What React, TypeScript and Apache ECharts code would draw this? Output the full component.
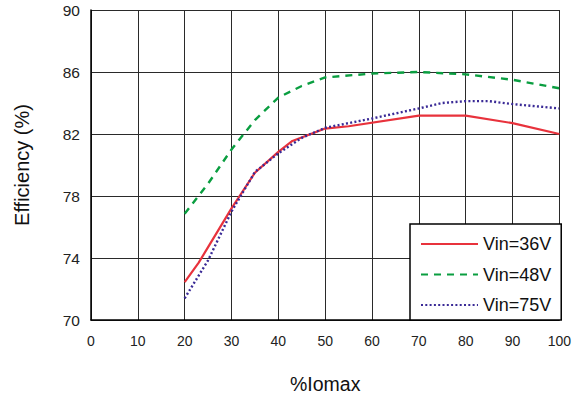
import React, { useEffect, useRef } from "react";
import * as echarts from "echarts";

const xTicks = [0, 10, 20, 30, 40, 50, 60, 70, 80, 90, 100];
const yTicks = [70, 74, 78, 82, 86, 90];

const vin36X = [20, 23, 25, 30, 35, 40, 43, 50, 55, 70, 80, 90, 100];
const vin36Y = [72.45, 73.7, 74.7, 77.2, 79.5, 80.85, 81.55, 82.35, 82.5, 83.18, 83.18, 82.7, 82.0];

const vin48X = [20, 25, 30, 35, 40, 45, 50, 60, 70, 80, 90, 100];
const vin48Y = [76.85, 78.8, 81.0, 82.9, 84.35, 85.1, 85.65, 85.9, 86.0, 85.85, 85.5, 84.95];

const vin75X = [20, 25, 30, 35, 40, 45, 50, 60, 70, 75, 80, 85, 90, 100];
const vin75Y = [71.4, 73.85, 77.0, 79.55, 80.75, 81.75, 82.4, 83.0, 83.65, 84.0, 84.12, 84.12, 83.93, 83.65];

const seriesNames = ["Vin=36V", "Vin=48V", "Vin=75V"];

const FONT = "'Liberation Sans', Arial, sans-serif";

function pairs(xs: number[], ys: number[]) {
  return xs.map((x, i) => [x, ys[i]]);
}

export default function App() {
  const ref = useRef<HTMLDivElement>(null);
  useEffect(() => {
    if (!ref.current) return;
    const chart = echarts.init(ref.current, null, { renderer: "svg" });
    chart.setOption({
      animation: false,
      backgroundColor: "#ffffff",
      textStyle: { fontFamily: FONT },
      grid: { left: 91, right: 13, top: 10, bottom: 80 },
      xAxis: {
        type: "value",
        min: xTicks[0],
        max: xTicks[xTicks.length - 1],
        interval: 10,
        name: "%Iomax",
        nameLocation: "middle",
        nameGap: 54,
        nameTextStyle: { fontSize: 19.5, color: "#111", fontFamily: FONT },
        axisLine: { show: true, lineStyle: { color: "#000", width: 1.5 } },
        axisTick: { show: false },
        axisLabel: { fontSize: 14, color: "#222", margin: 14, fontFamily: FONT },
        splitLine: { show: true, lineStyle: { color: "#2a2a2a", width: 1 } },
      },
      yAxis: {
        type: "value",
        min: yTicks[0],
        max: yTicks[yTicks.length - 1],
        interval: 4,
        name: "Efficiency (%)",
        nameLocation: "middle",
        nameRotate: 90,
        nameGap: 59,
        nameTextStyle: { fontSize: 20, color: "#111", fontFamily: FONT },
        axisLine: { show: true, lineStyle: { color: "#000", width: 1.5 } },
        axisTick: { show: false },
        axisLabel: { fontSize: 15.5, color: "#222", margin: 11, fontFamily: FONT },
        splitLine: { show: true, lineStyle: { color: "#2a2a2a", width: 1 } },
      },
      legend: {
        orient: "vertical",
        left: 410,
        top: 224,
        padding: [11, 10, 6, 10],
        itemGap: 12.5,
        itemWidth: 57,
        itemHeight: 18,
        backgroundColor: "#ffffff",
        borderColor: "#000",
        borderWidth: 1.5,
        itemStyle: { opacity: 0 },
        textStyle: { fontSize: 18, color: "#111", fontFamily: FONT },
        data: seriesNames,
      },
      series: [
        {
          name: seriesNames[0],
          type: "line",
          symbol: "none",
          data: pairs(vin36X, vin36Y),
          lineStyle: { color: "#e8323c", width: 2.2 },
          itemStyle: { color: "#e8323c" },
          z: 3,
        },
        {
          name: seriesNames[1],
          type: "line",
          symbol: "none",
          data: pairs(vin48X, vin48Y),
          lineStyle: { color: "#0a9e40", width: 2.4, type: [7, 6] },
          itemStyle: { color: "#0a9e40" },
          z: 3,
        },
        {
          name: seriesNames[2],
          type: "line",
          symbol: "none",
          data: pairs(vin75X, vin75Y),
          lineStyle: { color: "#3a2a96", width: 2.4, type: [2, 2.3] },
          itemStyle: { color: "#3a2a96" },
          z: 3,
        },
      ],
    });
    return () => chart.dispose();
  }, []);
  return <div ref={ref} style={{ width: 574, height: 400, position: "absolute", left: 0, top: 0 }} />;
}
